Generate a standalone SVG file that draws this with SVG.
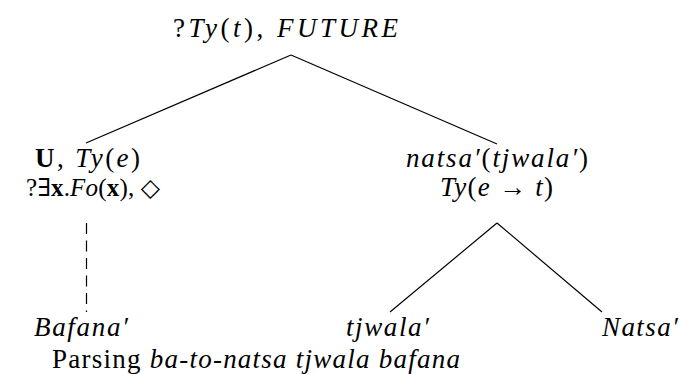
<svg xmlns="http://www.w3.org/2000/svg" width="680" height="374" viewBox="0 0 680 374">
<style>
text{font-family:"Liberation Serif","DejaVu Serif",serif;font-size:27px;fill:#000;text-anchor:start}
.i{font-style:italic}
.b{font-weight:bold;font-style:normal}
.r{font-style:normal}
.e{stroke:#000;stroke-width:1.2;fill:none}
</style>
<rect width="680" height="374" fill="#fff"/>
<g id="edges">
<line class="e" x1="291" y1="55" x2="86" y2="143"/>
<line class="e" x1="291" y1="55" x2="497" y2="144"/>
<line class="e" x1="86.5" y1="223" x2="86.5" y2="312" stroke-dasharray="11,6.5"/>
<line class="e" x1="497" y1="223" x2="390" y2="312"/>
<line class="e" x1="497" y1="223" x2="602" y2="312"/>
</g>
<g id="root"><text x="173" y="37" textLength="225" lengthAdjust="spacing"><tspan class="r">?</tspan><tspan class="i">Ty</tspan><tspan class="r">(</tspan><tspan class="i">t</tspan><tspan class="r">), </tspan><tspan class="i">FUTURE</tspan></text></g>
<g id="left"><text x="35" y="167" textLength="105" lengthAdjust="spacing"><tspan class="b">U</tspan><tspan class="r">, </tspan><tspan class="i">Ty</tspan><tspan class="r">(</tspan><tspan class="i">e</tspan><tspan class="r">)</tspan></text>
<text x="26" y="196" style="font-size:25px" textLength="134" lengthAdjust="spacing"><tspan class="r">?∃</tspan><tspan class="b">x</tspan><tspan class="r">.</tspan><tspan class="i">Fo</tspan><tspan class="r">(</tspan><tspan class="b">x</tspan><tspan class="r">), ◇</tspan></text></g>
<g id="right"><text x="406" y="167" textLength="182" lengthAdjust="spacing"><tspan class="i">natsa′</tspan><tspan class="r">(</tspan><tspan class="i">tjwala′</tspan><tspan class="r">)</tspan></text>
<text x="440" y="196" textLength="113" lengthAdjust="spacing"><tspan class="i">Ty</tspan><tspan class="r">(</tspan><tspan class="i">e</tspan><tspan class="r"> → </tspan><tspan class="i">t</tspan><tspan class="r">)</tspan></text></g>
<g id="bafana"><text class="i" x="34" y="336" textLength="94" lengthAdjust="spacing">Bafana′</text></g>
<g id="tjwala"><text class="i" x="346" y="336" textLength="83" lengthAdjust="spacing">tjwala′</text></g>
<g id="natsa"><text class="i" x="602" y="336" textLength="76" lengthAdjust="spacing">Natsa′</text></g>
<g id="caption"><text x="52" y="368" textLength="408" lengthAdjust="spacing">Parsing <tspan class="i">ba-to-natsa tjwala bafana</tspan></text></g>
</svg>
